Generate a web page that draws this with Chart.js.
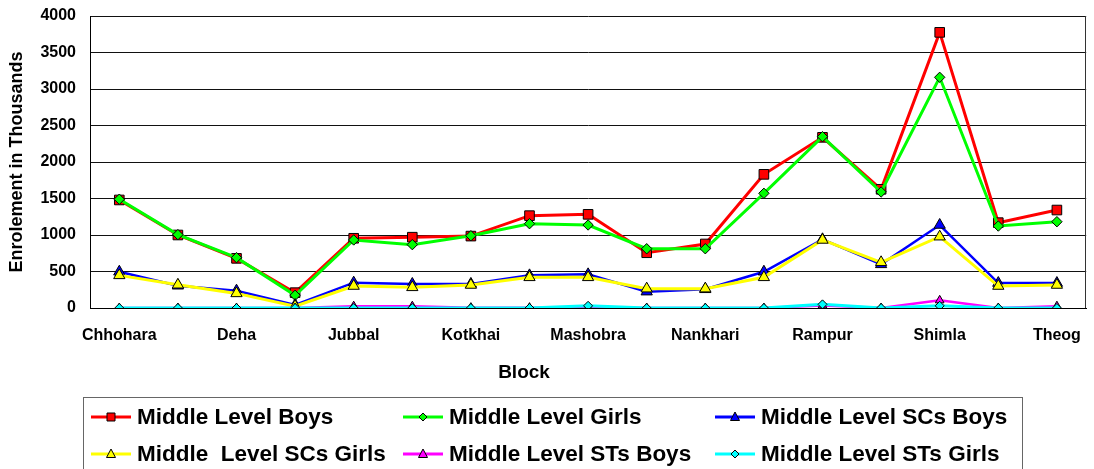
<!DOCTYPE html>
<html>
<head>
<meta charset="utf-8">
<script src="https://cdn.jsdelivr.net/npm/chart.js@4.4.0/dist/chart.umd.min.js"></script>
<style>
  html, body { margin: 0; padding: 0; background: #fff; }
  #wrap { width: 1094px; height: 469px; position: relative; }
</style>
</head>
<body>
<div id="wrap"><canvas id="c" width="1094" height="469"></canvas></div>
<script>
const blocks = ["Chhohara","Chopal","Deha","Dodra Kwar","Jubbal","Kasumpti","Kotkhai","Kumarsain","Mashobra","Matiana","Nankhari","Narkanda","Rampur","Rohru","Shimla","Sunni","Theog"];
const boys      = [1480,1000,680,210,955,970,985,1265,1283,757,877,1831,2338,1626,3776,1169,1342];
const girls     = [1490,1005,690,174,932,868,990,1155,1137,812,812,1571,2347,1589,3160,1123,1182];
const scBoys    = [497,305,237,41,347,329,330,447,461,224,256,497,941,598,1137,342,342];
const scGirls   = [447,318,200,25,301,283,315,420,420,265,265,420,932,626,977,301,315];
const stBoys    = [0,0,0,0,25,25,5,5,10,0,0,0,35,0,105,0,25];
const stGirls   = [0,0,0,0,0,0,0,0,30,0,0,0,50,0,30,0,0];
const seriesNames = ["Middle Level Boys","Middle Level Girls","Middle Level SCs Boys","Middle  Level SCs Girls","Middle Level STs Boys","Middle Level STs Girls"];
const yTicks = [0,500,1000,1500,2000,2500,3000,3500,4000];
const xTitle = "Block";
const yTitle = "Enrolement in Thousands";

const FONT = "'Liberation Sans', Arial, sans-serif";

function ds(label, data, color, style, radius, lw, order) {
  return {
    label, data,
    borderColor: color, backgroundColor: color,
    borderWidth: lw,
    pointStyle: style, pointRadius: radius, pointHoverRadius: radius,
    pointBackgroundColor: color, pointBorderColor: '#000', pointBorderWidth: 1,
    tension: 0, fill: false, order
  };
}

const datasets = [
  ds(seriesNames[0], boys,    '#FF0000', 'rect',     6.8, 3, 6),
  ds(seriesNames[1], girls,   '#00FF00', 'rectRot',  5.2, 3, 5),
  ds(seriesNames[2], scBoys,  '#0000FF', 'triangle', 6.5, 2.5, 4),
  ds(seriesNames[3], scGirls, '#FFFF00', 'triangle', 6.5, 3, 3),
  ds(seriesNames[4], stBoys,  '#FF00FF', 'triangle', 5,   2.5, 2),
  ds(seriesNames[5], stGirls, '#00FFFF', 'rectRot',  4.5, 3, 1)
];

const frame = {
  id: 'frame',
  beforeDatasetsDraw(chart) {
    const a = chart.chartArea, ctx = chart.ctx;
    ctx.save();
    ctx.strokeStyle = '#333';
    ctx.lineWidth = 1;
    ctx.beginPath();
    ctx.moveTo(Math.round(a.right) - 0.5, a.top);
    ctx.lineTo(Math.round(a.right) - 0.5, a.bottom);
    ctx.stroke();
    ctx.restore();
  }
};

function marker(ctx, style, x, y, r, fill) {
  ctx.beginPath();
  if (style === 'rect') {
    ctx.rect(x - r, y - r, 2 * r, 2 * r);
  } else if (style === 'rectRot') {
    ctx.moveTo(x - r, y); ctx.lineTo(x, y - r); ctx.lineTo(x + r, y); ctx.lineTo(x, y + r); ctx.closePath();
  } else {
    ctx.moveTo(x, y - r); ctx.lineTo(x + r * 0.9, y + r * 0.7); ctx.lineTo(x - r * 0.9, y + r * 0.7); ctx.closePath();
  }
  ctx.fillStyle = fill; ctx.fill();
  ctx.strokeStyle = '#000'; ctx.lineWidth = 1; ctx.stroke();
}

const legendBox = {
  id: 'legendBox',
  afterDraw(chart) {
    const ctx = chart.ctx;
    ctx.save();
    // x-axis title
    ctx.fillStyle = '#000';
    ctx.font = "bold 19px " + FONT;
    ctx.textAlign = 'center';
    ctx.textBaseline = 'middle';
    ctx.fillText(xTitle, 524, 373);
    // legend
    ctx.strokeStyle = '#666';
    ctx.lineWidth = 1;
    ctx.strokeRect(83.5, 397.5, 939, 100);
    const sizes = { rect: 4, rectRot: 4, triangle: 5 };
    chart.data.datasets.forEach((d, i) => {
      const col = i % 3, row = Math.floor(i / 3);
      const x0 = 91 + col * 312, y = 417 + row * 37;
      ctx.strokeStyle = d.borderColor; ctx.lineWidth = 3;
      ctx.beginPath(); ctx.moveTo(x0, y); ctx.lineTo(x0 + 40, y); ctx.stroke();
      marker(ctx, d.pointStyle, x0 + 20, y, sizes[d.pointStyle], d.pointBackgroundColor);
      ctx.fillStyle = '#000';
      ctx.font = "bold 22.5px " + FONT;
      ctx.textBaseline = 'middle';
      ctx.textAlign = 'left';
      ctx.fillText(d.label, x0 + 46, y + 1);
    });
    ctx.restore();
  }
};

new Chart(document.getElementById('c'), {
  type: 'line',
  data: { labels: blocks, datasets },
  plugins: [frame, legendBox],
  options: {
    responsive: false,
    animation: false,
    devicePixelRatio: 1,
    layout: { padding: { left: 0, right: 6, top: 16, bottom: 71 } },
    plugins: { legend: { display: false }, tooltip: { enabled: false } },
    scales: {
      x: {
        offset: true,
        grid: { display: false, drawTicks: false },
        border: { display: true, color: '#000', width: 1 },
        ticks: {
          autoSkip: false, maxRotation: 0, padding: 18, color: '#000',
          font: { family: FONT, size: 16, weight: 'bold' },
          callback: function(v, i) { return i % 2 === 0 ? blocks[i] : ''; }
        },
        title: { display: false },
        afterFit(s) { s.height = 90; s.paddingLeft = 0; s.paddingRight = 0; }
      },
      y: {
        min: 0, max: 4000,
        grid: { color: '#111', lineWidth: 1, drawTicks: false },
        border: { display: true, color: '#000', width: 1 },
        afterBuildTicks(s) { s.ticks = yTicks.map(v => ({ value: v })); },
        ticks: {
          padding: 14, color: '#000', font: { family: FONT, size: 16, weight: 'bold' },
          callback: function(v) { return String(v); }
        },
        title: { display: true, text: yTitle, color: '#000', font: { family: FONT, size: 18, weight: 'bold' }, padding: { top: 6, bottom: 0 } },
        afterFit(s) { s.width = 90; s.paddingTop = 0; s.paddingBottom = 0; }
      }
    }
  }
});
</script>
</body>
</html>
